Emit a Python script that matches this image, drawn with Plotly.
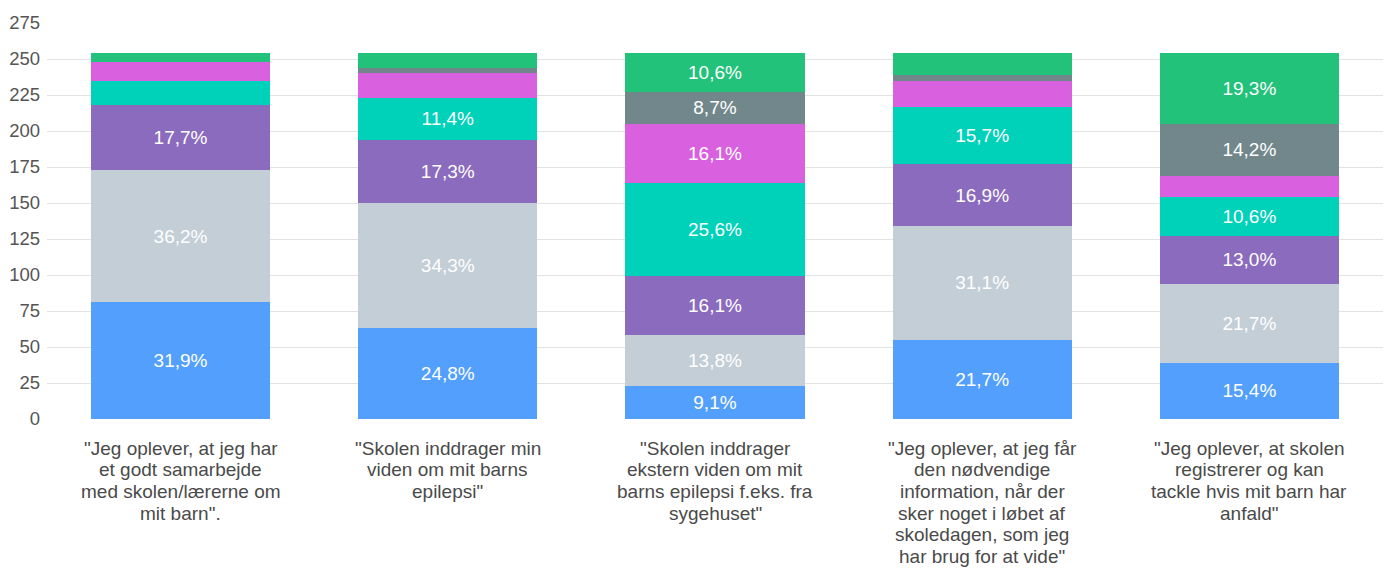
import plotly.graph_objects as go

# Statements (x categories); <br> marks the line breaks of each label
categories = [
    '"Jeg oplever, at jeg har<br>et godt samarbejde<br>med skolen/lærerne om<br>mit barn".',
    '"Skolen inddrager min<br>viden om mit barns<br>epilepsi"',
    '"Skolen inddrager<br>ekstern viden om mit<br>barns epilepsi f.eks. fra<br>sygehuset"',
    '"Jeg oplever, at jeg får<br>den nødvendige<br>information, når der<br>sker noget i løbet af<br>skoledagen, som jeg<br>har brug for at vide"',
    '"Jeg oplever, at skolen<br>registrerer og kan<br>tackle hvis mit barn har<br>anfald"',
]

# Number of answers per response option, stacked bottom to top
svar_1 = [81, 63, 23, 55, 39]
svar_2 = [92, 87, 35, 79, 55]
svar_3 = [45, 44, 41, 43, 33]
svar_4 = [17, 29, 65, 40, 27]
svar_5 = [13, 17, 41, 18, 15]
svar_6 = [0, 4, 22, 4, 36]
svar_7 = [6, 10, 27, 15, 49]

series = [
    ("Svar 1", svar_1, "#529FFE"),
    ("Svar 2", svar_2, "#C4CED7"),
    ("Svar 3", svar_3, "#8B6BBE"),
    ("Svar 4", svar_4, "#00D1B9"),
    ("Svar 5", svar_5, "#D961E0"),
    ("Svar 6", svar_6, "#72878B"),
    ("Svar 7", svar_7, "#23C27A"),
]

totals = [sum(s[1][i] for s in series) for i in range(len(categories))]

FONT = "Liberation Sans, Arial, sans-serif"

fig = go.Figure()
for name, values, color in series:
    labels = []
    for v, t in zip(values, totals):
        pct = v / t * 100
        labels.append(f"{pct:.1f}%".replace(".", ",") if pct >= 8 else "")
    fig.add_trace(go.Bar(
        name=name,
        x=categories,
        y=values,
        marker=dict(color=color, line=dict(width=0)),
        text=labels,
        textposition="inside",
        insidetextanchor="middle",
        textangle=0,
        textfont=dict(family=FONT, size=19, color="white"),
        hovertemplate="%{y}<extra>" + name + "</extra>",
    ))

# Category labels: one annotation per line for a compact line spacing
LINE_GAP = 21.7
for cat in categories:
    for i, line in enumerate(cat.split("<br>")):
        fig.add_annotation(
            x=cat, xref="x",
            y=0, yref="paper",
            yanchor="middle",
            yshift=-(29 + i * LINE_GAP),
            text=line,
            showarrow=False,
            font=dict(family=FONT, size=19, color="#4a4a4a"),
        )

fig.update_layout(
    barmode="stack",
    bargap=0.33,
    showlegend=False,
    width=1391,
    height=571,
    margin=dict(l=47, r=8, t=23, b=152),
    paper_bgcolor="white",
    plot_bgcolor="white",
    font=dict(family=FONT),
    uniformtext=dict(mode=False),
)
fig.update_xaxes(
    showgrid=False,
    showline=False,
    ticks="",
    showticklabels=False,
)
fig.update_yaxes(
    range=[0, 275],
    dtick=25,
    showgrid=True,
    gridcolor="#e2e2e2",
    gridwidth=1,
    zeroline=False,
    showline=False,
    ticklabelstandoff=6,
    tickfont=dict(family=FONT, size=18.5, color="#555555"),
)

fig.write_html("out.html")
